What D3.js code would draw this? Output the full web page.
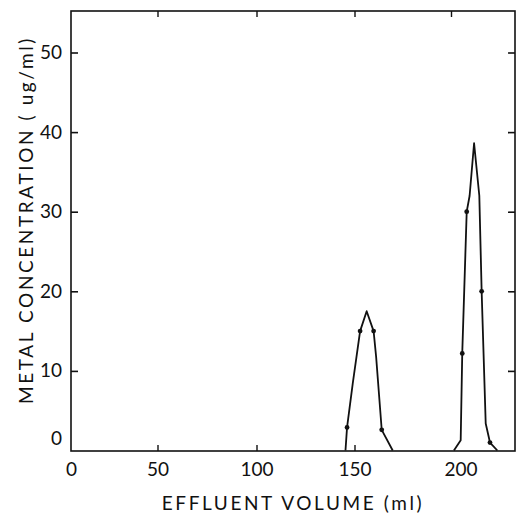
<!DOCTYPE html>
<html>
<head>
<meta charset="utf-8">
<script src="https://cdn.jsdelivr.net/npm/d3@7"></script>
<style>
  body { margin: 0; background: #fff; }
  svg { display: block; }
  text { font-family: Lato, "Open Sans", sans-serif; fill: #111; }
</style>
</head>
<body>
<svg id="chart"></svg>
<script>
// effluent volume (ml) vs metal concentration (ug/ml)
var peak1X = [145.4, 146.2, 149.1, 152.9, 156.3, 159.9, 161.2, 164.1, 169.8]
var peak1Y = [0, 2.9, 8.4, 15.0, 17.5, 15.0, 11.8, 2.6, 0]
var peak2X = [201.5, 205.0, 205.8, 208.1, 209.6, 211.9, 214.6, 215.8, 217.9, 220.1, 223.9]
var peak2Y = [0, 1.3, 12.2, 30.0, 32.0, 38.6, 32.0, 20.0, 3.4, 1.0, 0]
// which of the points above carry a measured dot
var dots1 = [1, 3, 5, 7]
var dots2 = [2, 3, 7, 9]

var xTicks = [0, 50, 100, 150, 200]
var yTicks = [0, 10, 20, 30, 40, 50]

var width = 520, height = 514
var frame = { left: 71, right: 515, top: 11, bottom: 451 }

let svg = d3.select("#chart")
  .attr("width", width)
  .attr("height", height)

// the hand-ruled axis is not quite even, so the scale is piecewise
var x = d3.scaleLinear()
  .domain([0, 50, 100, 150, 200, 233])
  .range([71, 157.5, 256.5, 354.5, 451, 515])

var y = d3.scaleLinear()
  .domain([0, 50])
  .range([450.5, 52.5])

// frame
svg.append("rect")
  .attr("x", frame.left)
  .attr("y", frame.top)
  .attr("width", frame.right - frame.left)
  .attr("height", frame.bottom - frame.top)
  .attr("fill", "none")
  .attr("stroke", "#111")
  .attr("stroke-width", 1.6)

// left axis, ticks point inward
let yAxis = svg.append("g")
  .attr("transform", "translate(" + frame.left + ",0)")
  .call(d3.axisLeft(y).tickValues(yTicks).tickSize(-7).tickPadding(9))
yAxis.select(".domain").remove()
yAxis.selectAll("text").style("font-size", "19px").style("font-family", "Lato, sans-serif")
yAxis.selectAll(".tick line").attr("stroke", "#111").attr("stroke-width", 1.6)
  .filter(d => d == 0).remove()
// the zero label sits a bit above the base line
yAxis.selectAll(".tick text").filter(d => d == 0).attr("dy", "-0.3em")

// right axis
let yAxisR = svg.append("g")
  .attr("transform", "translate(" + frame.right + ",0)")
  .call(d3.axisRight(y).tickValues([10, 20, 30, 40, 50]).tickSize(-7).tickFormat(""))
yAxisR.select(".domain").remove()
yAxisR.selectAll(".tick line").attr("stroke", "#111").attr("stroke-width", 1.6)

// bottom axis
let xAxis = svg.append("g")
  .attr("transform", "translate(0," + frame.bottom + ")")
  .call(d3.axisBottom(x).tickValues(xTicks).tickSize(-6).tickPadding(12))
xAxis.select(".domain").remove()
xAxis.selectAll("text").style("font-size", "19px").style("font-family", "Lato, sans-serif")
xAxis.selectAll(".tick line").attr("stroke", "#111").attr("stroke-width", 1.4)
  .filter(d => d == 0 || d == 200).remove()
// the 200 label was lettered a little right of its tick
xAxis.selectAll(".tick text").filter(d => d == 200).attr("dx", "0.5em")

// top axis
let xAxisT = svg.append("g")
  .attr("transform", "translate(0," + frame.top + ")")
  .call(d3.axisTop(x).tickValues([50, 100, 150, 200]).tickSize(-6).tickFormat(""))
xAxisT.select(".domain").remove()
xAxisT.selectAll(".tick line").attr("stroke", "#111").attr("stroke-width", 1.4)

// axis titles
svg.append("text")
  .attr("x", (frame.left + frame.right) / 2)
  .attr("y", 510)
  .attr("text-anchor", "middle")
  .style("font-size", "19px")
  .style("letter-spacing", "2.6px")
  .text("EFFLUENT VOLUME (ml)")

svg.append("text")
  .attr("transform", "translate(33,220) rotate(-90)")
  .attr("text-anchor", "middle")
  .style("font-size", "19px")
  .style("letter-spacing", "2.6px")
  .text("METAL CONCENTRATION ( ug/ml)")

// curves
var line = d3.line()
  .x(d => x(d[0]))
  .y(d => y(d[1]))

function drawPeak(xs, ys, dotIdx) {
  var pts = xs.map((v, i) => [v, ys[i]])
  svg.append("path")
    .datum(pts)
    .attr("d", line)
    .attr("fill", "none")
    .attr("stroke", "#111")
    .attr("stroke-width", 1.8)
    .attr("stroke-linejoin", "round")

  svg.selectAll(null)
    .data(dotIdx.map(i => pts[i]))
    .enter().append("circle")
    .attr("cx", d => x(d[0]))
    .attr("cy", d => y(d[1]))
    .attr("r", 2.4)
    .attr("fill", "#111")
}

drawPeak(peak1X, peak1Y, dots1)
drawPeak(peak2X, peak2Y, dots2)
</script>
</body>
</html>
